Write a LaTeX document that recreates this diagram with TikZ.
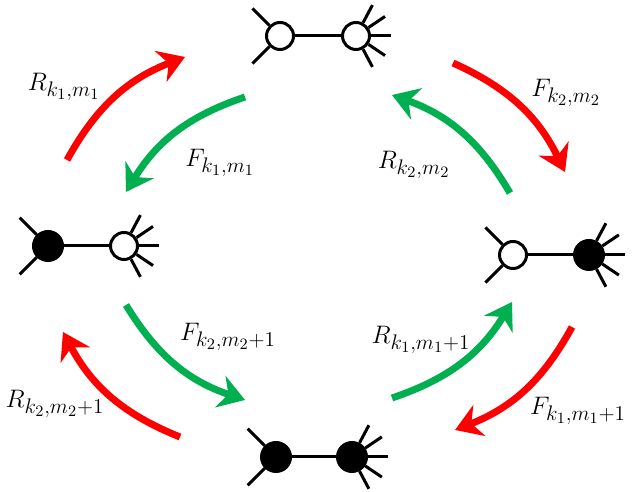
\documentclass[tikz,border=0pt]{standalone}
\usepackage{tikz}
\usetikzlibrary{arrows.meta}
\DeclareMathSizes{15}{15}{11.5}{9}
\definecolor{fwdred}  {HTML}{FF0000}
\definecolor{revgreen}{HTML}{00B050}

\begin{document}
\begin{tikzpicture}[
  x=0.02cm, y=0.02cm,
  vtx/.style   ={circle,draw,line width=0.06cm,inner sep=0pt,minimum size=0.54cm},
  ov/.style    ={vtx,fill=white},
  fv/.style    ={vtx,fill=black,minimum size=0.58cm},
  leg/.style   ={line width=0.06cm},
  flow/.style  ={line width=0.14cm,-{Stealth[length=0.52cm,width=0.66cm,inset=0.17cm]}},
  redarr/.style={flow,draw=fwdred},
  grnarr/.style={flow,draw=revgreen},
  lbl/.style   ={font=\fontsize{15}{18}\selectfont}
]
\useasboundingbox (0,0) rectangle (641,492);

%% four states  (top / left / right / bottom)
\node[ov] (ta) at (280,456) {};
\node[ov] (tb) at (356,456) {};

\node[fv] (la) at (48,246)  {};
\node[ov] (lb) at (124,246) {};

\node[ov] (ra) at (513,237) {};
\node[fv] (rb) at (589,237) {};

\node[fv] (ba) at (276,35)  {};
\node[fv] (bb) at (352,35)  {};

%% edges and legs
\foreach \a/\b in {ta/tb,la/lb,ra/rb,ba/bb}
  \draw[leg] (\a) -- (\b);
\foreach \v in {ta,la,ra,ba}
  \draw[leg] (\v.135) -- ++(135:24) (\v.225) -- ++(225:24);
\foreach \v in {tb,lb,rb,bb}
  \foreach \t in {62,34,0,-34,-62}
    \draw[leg] (\v.\t) -- ++(\t:20);

%% arrow ends
\coordinate (p1) at (67,332);  \coordinate (q1) at (185,435);
\coordinate (p2) at (245,395); \coordinate (q2) at (126,300);
\coordinate (p3) at (453,429); \coordinate (q3) at (565,320);
\coordinate (p4) at (510,299); \coordinate (q4) at (392,397);
\coordinate (p5) at (126,187); \coordinate (q5) at (245,92);
\coordinate (p6) at (180,55);  \coordinate (q6) at (63,160);
\coordinate (p7) at (392,94);  \coordinate (q7) at (512,190);
\coordinate (p8) at (572,165); \coordinate (q8) at (455,62);

%% transitions
\draw[redarr] (p1) to[bend left=20]  (q1);
\draw[grnarr] (p2) to[bend right=20] (q2);
\draw[redarr] (p3) to[bend left=20]  (q3);
\draw[grnarr] (p4) to[bend right=20] (q4);
\draw[grnarr] (p5) to[bend right=20] (q5);
\draw[redarr] (p6) to[bend left=20]  (q6);
\draw[grnarr] (p7) to[bend right=20] (q7);
\draw[redarr] (p8) to[bend left=20]  (q8);

%% labels
\node[lbl] (l1) at (64,405)  {$R_{k_1,m_1}$};
\node[lbl] (l2) at (220,329) {$F_{k_1,m_1}$};
\node[lbl] (l3) at (566,399) {$F_{k_2,m_2}$};
\node[lbl] (l4) at (414,327) {$R_{k_2,m_2}$};
\node[lbl] (l5) at (228,155) {$F_{k_2,m_2+1}$};
\node[lbl] (l6) at (55,88)   {$R_{k_2,m_2+1}$};
\node[lbl] (l7) at (421,152) {$R_{k_1,m_1+1}$};
\node[lbl] (l8) at (578,81)  {$F_{k_1,m_1+1}$};

\end{tikzpicture}
\end{document}
